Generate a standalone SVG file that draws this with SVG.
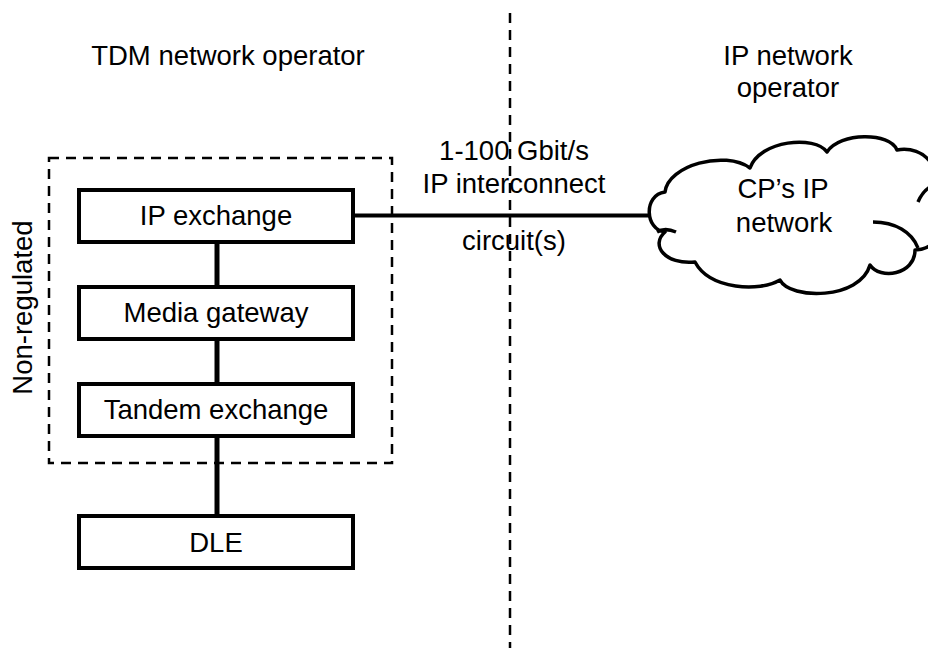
<svg xmlns="http://www.w3.org/2000/svg" width="928" height="648" viewBox="0 0 928 648">
  <style>
    .t { font-family: "Liberation Sans", Arial, sans-serif; font-size: 27.5px; fill: #000; text-anchor: middle; }
    .box { fill: #fff; stroke: #000; stroke-width: 4; }
    .dash { fill: none; stroke: #000; stroke-width: 2.5; stroke-dasharray: 10 7; }
    .link { stroke: #000; fill: none; }
  </style>
  <rect width="928" height="648" fill="#fff"/>

  <g id="boundary">
    <line class="dash" x1="510" y1="13" x2="510" y2="648"/>
  </g>

  <g id="labels">
    <text class="t" x="228" y="65">TDM network operator</text>
    <text class="t" x="788" y="65">IP network</text>
    <text class="t" x="788" y="97">operator</text>
    <text class="t" x="514" y="160">1-100 Gbit/s</text>
    <text class="t" x="514" y="193">IP interconnect</text>
    <text class="t" x="514" y="250">circuit(s)</text>
  </g>

  <g id="non-regulated">
    <rect class="dash" x="49" y="158" width="343" height="305"/>
    <text class="t" transform="translate(32,307.5) rotate(-90)">Non-regulated</text>
  </g>

  <g id="connectors">
    <line class="link" stroke-width="4" x1="354" y1="215.5" x2="652" y2="215.5"/>
    <line class="link" stroke-width="5" x1="217" y1="243" x2="217" y2="286"/>
    <line class="link" stroke-width="5" x1="217" y1="340" x2="217" y2="383"/>
    <line class="link" stroke-width="5" x1="217" y1="437" x2="217" y2="515"/>
  </g>

  <g id="ip-exchange">
    <rect class="box" x="79" y="190" width="274" height="52"/>
    <text class="t" x="216" y="225">IP exchange</text>
  </g>
  <g id="media-gateway">
    <rect class="box" x="79" y="287" width="274" height="52"/>
    <text class="t" x="216" y="322">Media gateway</text>
  </g>
  <g id="tandem-exchange">
    <rect class="box" x="79" y="384" width="274" height="52"/>
    <text class="t" x="216" y="419">Tandem exchange</text>
  </g>
  <g id="dle">
    <rect class="box" x="79" y="516" width="274" height="52"/>
    <text class="t" x="216" y="552">DLE</text>
  </g>

  <g id="cp-ip-network">
    <path fill="#fff" stroke="#000" stroke-width="3.5" stroke-linejoin="round"
      d="M 665,232 C 645,230 643,195 665,192 C 668,165 725,150 750,168 C 760,140 815,135 827,152 C 840,132 890,132 897,150 C 925,145 945,170 935,200 C 950,220 940,250 915,250 C 915,275 880,280 870,265 C 860,300 790,300 780,280 C 760,292 710,290 695,262 C 665,265 650,245 665,232 Z"/>
    <path fill="none" stroke="#000" stroke-width="3.5" d="M 873,222 C 895,222 912,232 918,248"/>
    <path fill="none" stroke="#000" stroke-width="3.5" d="M 918,202 C 921,195 925,190 930,187"/>
    <path fill="none" stroke="#000" stroke-width="3.5" d="M 657,232 C 662,229 669,229 676,232"/>
    <text class="t" x="783" y="198">CP’s IP</text>
    <text class="t" x="784" y="232">network</text>
  </g>
</svg>
